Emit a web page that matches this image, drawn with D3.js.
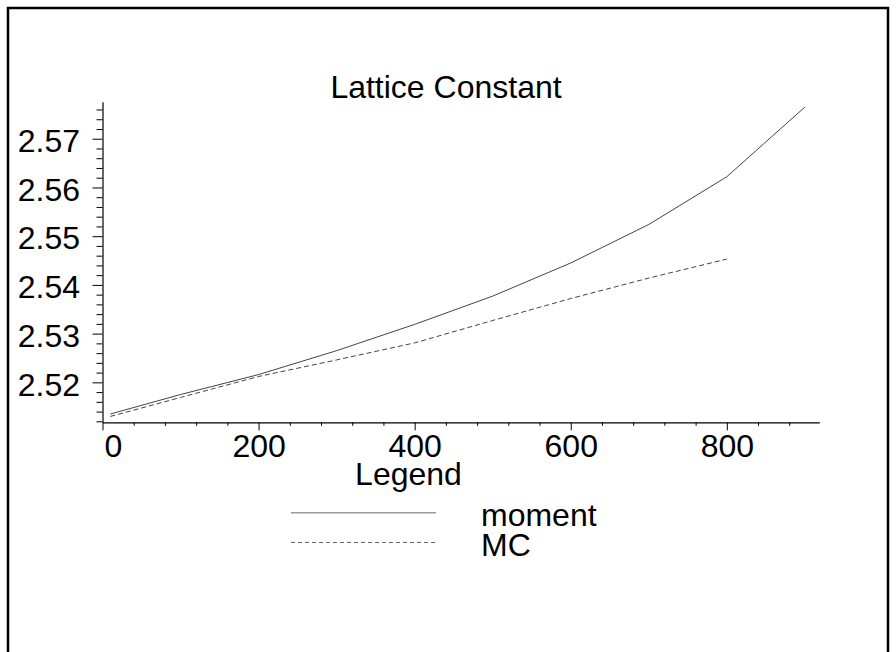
<!DOCTYPE html>
<html>
<head>
<meta charset="utf-8">
<script src="https://cdn.jsdelivr.net/npm/d3@7"></script>
<style>
  html, body { margin: 0; padding: 0; background: #fff; }
  svg { display: block; font-family: "Liberation Sans", Arial, sans-serif; }
</style>
</head>
<body>
<svg id="chart" width="896" height="652"></svg>
<script>
// Temperature points and lattice constant for each method
const temperature = [10, 100, 200, 300, 400, 500, 600, 700, 800, 900];
const momentValues = [2.5135, 2.5175, 2.5216, 2.5265, 2.5319, 2.5377, 2.5445, 2.5524, 2.5622, 2.5765];
const mcTemperature = [10, 100, 200, 300, 400, 500, 600, 700, 800];
const mcValues = [2.5130, 2.5169, 2.5212, 2.5246, 2.5281, 2.5327, 2.5372, 2.5414, 2.5453];

const xMajorTicks = [0, 200, 400, 600, 800];
const yMajorTicks = [2.52, 2.53, 2.54, 2.55, 2.56, 2.57];
const seriesNames = ["moment", "MC"];

const svg = d3.select("#chart");

// page frame
svg.append("rect")
  .attr("x", 8).attr("y", 8)
  .attr("width", 880).attr("height", 660)
  .attr("fill", "none").attr("stroke", "#000").attr("stroke-width", 2.5);

const x = d3.scaleLinear().domain([0, 918.5]).range([102.5, 819.3]);
const y = d3.scaleLinear().domain([2.5118, 2.5776]).range([422.3, 101.7]);

const fontSize = 32;

// x axis: minor ticks every 40, labelled majors every 200
const xMinor = d3.range(0, 881, 40).filter(v => v % 200 !== 0);
svg.append("g")
  .attr("transform", `translate(0,${y.range()[0]})`)
  .call(d3.axisBottom(x).tickValues(xMinor).tickSize(3.5).tickSizeOuter(0).tickFormat(""))
  .call(g => g.select(".domain").remove())
  .call(g => g.selectAll("line").attr("stroke", "#000"));

const xAxis = svg.append("g")
  .attr("transform", `translate(0,${y.range()[0]})`)
  .call(d3.axisBottom(x).tickValues(xMajorTicks).tickSize(8).tickSizeOuter(0).tickFormat(d3.format("d")));
xAxis.select(".domain").attr("stroke", "#000").attr("stroke-width", 1.2);
xAxis.selectAll("line").attr("stroke", "#000");
xAxis.selectAll("text")
  .attr("font-size", fontSize)
  .attr("font-family", "Liberation Sans, Arial, sans-serif")
  .attr("fill", "#000")
  .attr("y", 35).attr("dy", 0)
  .attr("text-anchor", d => d === 0 ? "start" : "middle")
  .attr("x", d => d === 0 ? 1.5 : 0);

// y axis: minor ticks every 0.002, labelled majors every 0.01
const yMinor = d3.range(2512, 2577, 2).filter(v => v % 10 !== 0).map(v => v / 1000);
svg.append("g")
  .attr("transform", `translate(${x.range()[0]},0)`)
  .call(d3.axisLeft(y).tickValues(yMinor).tickSize(6).tickSizeOuter(0).tickFormat(""))
  .call(g => g.select(".domain").remove())
  .call(g => g.selectAll("line").attr("stroke", "#000"));

const yAxis = svg.append("g")
  .attr("transform", `translate(${x.range()[0]},0)`)
  .call(d3.axisLeft(y).tickValues(yMajorTicks).tickSize(10).tickSizeOuter(0).tickFormat(d3.format(".2f")));
yAxis.select(".domain").attr("stroke", "#000").attr("stroke-width", 1.2);
yAxis.selectAll("line").attr("stroke", "#000");
yAxis.selectAll("text")
  .attr("font-size", fontSize)
  .attr("font-family", "Liberation Sans, Arial, sans-serif")
  .attr("fill", "#000")
  .attr("x", -22.5).attr("dy", "0.4em");

// data lines
const line = d3.line().x(d => x(d[0])).y(d => y(d[1]));
svg.append("path")
  .datum(d3.zip(temperature, momentValues))
  .attr("d", line)
  .attr("fill", "none").attr("stroke", "#444").attr("stroke-width", 1);
svg.append("path")
  .datum(d3.zip(mcTemperature, mcValues))
  .attr("d", line)
  .attr("fill", "none").attr("stroke", "#444").attr("stroke-width", 1)
  .attr("stroke-dasharray", "5,3");

// title
svg.append("text")
  .attr("x", 446).attr("y", 97.5)
  .attr("text-anchor", "middle")
  .attr("font-size", fontSize)
  .text("Lattice Constant");

// legend
svg.append("text")
  .attr("x", 408.5).attr("y", 485)
  .attr("text-anchor", "middle")
  .attr("font-size", fontSize)
  .text("Legend");

const legendRows = [
  { name: seriesNames[0], y: 512.7, dash: null, color: "#9a9a9a", width: 1.6 },
  { name: seriesNames[1], y: 542.5, dash: "4,3", color: "#666", width: 1 }
];
legendRows.forEach(r => {
  svg.append("line")
    .attr("x1", 291).attr("x2", 436)
    .attr("y1", r.y).attr("y2", r.y)
    .attr("stroke", r.color).attr("stroke-width", r.width)
    .attr("stroke-dasharray", r.dash);
  svg.append("text")
    .attr("x", 481).attr("y", r.y + 13)
    .attr("font-size", fontSize)
    .text(r.name);
});
</script>
</body>
</html>
